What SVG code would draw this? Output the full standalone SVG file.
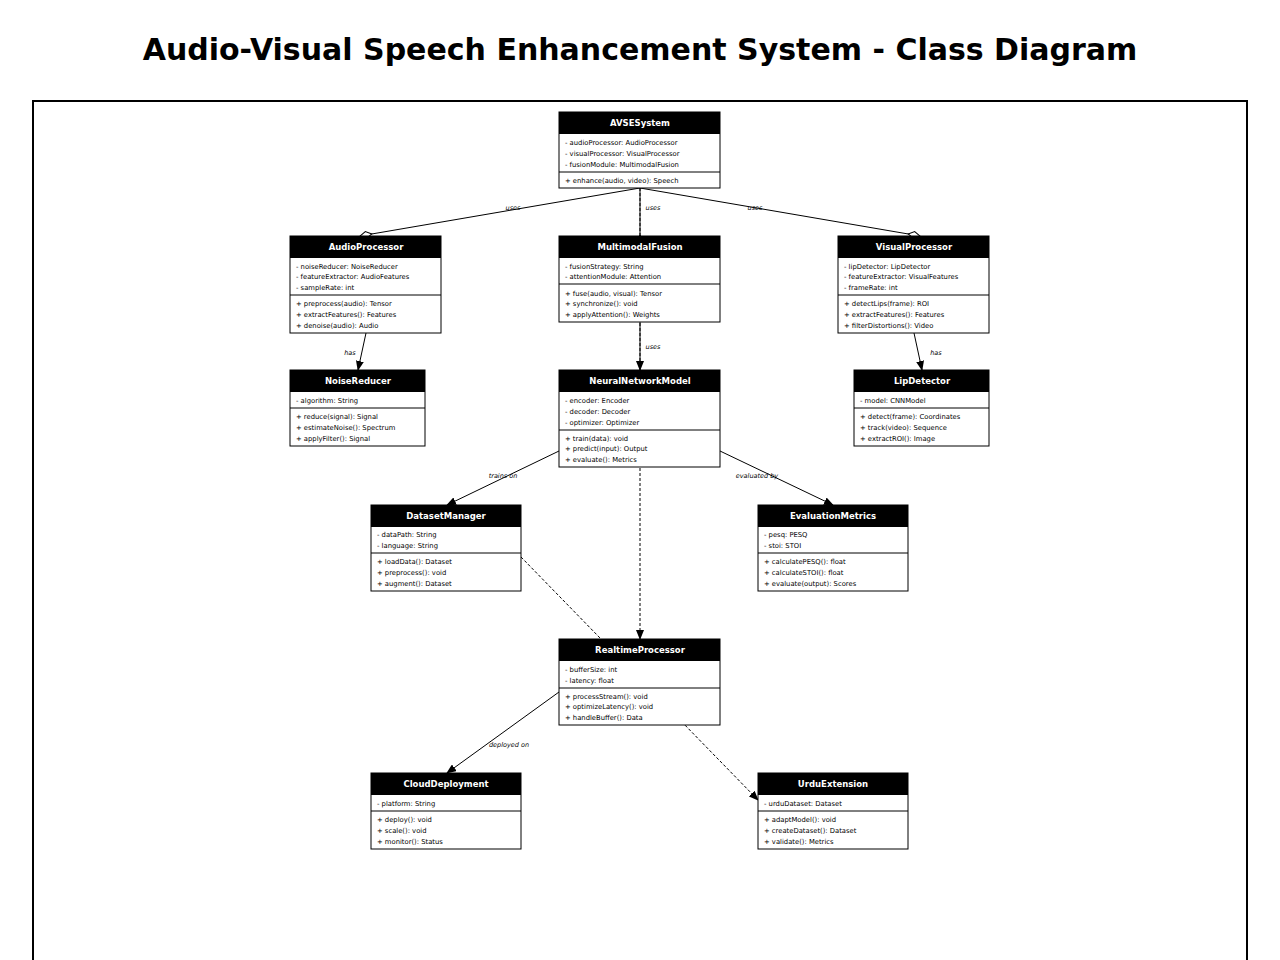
<svg xmlns="http://www.w3.org/2000/svg" width="1280" height="960" viewBox="0 0 1280 960">
<style>
text{font-family:"DejaVu Sans","Liberation Sans",sans-serif}
.t{font-size:30px;font-weight:bold;text-anchor:middle}
.b{fill:#fff;stroke:#000;stroke-width:1}
.h{fill:#000}
.hn{fill:#fff;font-size:8.5px;font-weight:bold;text-anchor:middle}
.m{font-size:6.8px;fill:#000}
.l{font-size:6.5px;font-style:italic;fill:#000;text-anchor:middle}
.c{stroke:#000;stroke-width:1;fill:none}
.d{stroke-dasharray:3,2}
</style>
<defs>
<marker id="a" markerWidth="10" markerHeight="8" refX="9" refY="4" orient="auto" markerUnits="userSpaceOnUse"><path d="M0,0L10,4L0,8z"/></marker>
<marker id="dm" markerWidth="14" markerHeight="8" refX="13" refY="4" orient="auto" markerUnits="userSpaceOnUse"><path d="M1,4L7,0.5L13,4L7,7.5z" fill="#fff" stroke="#000"/></marker>
</defs>
<rect width="1280" height="960" fill="#fff"/>
<text class="t" x="640" y="60">Audio-Visual Speech Enhancement System - Class Diagram</text>
<rect x="33" y="101" width="1214" height="870" fill="none" stroke="#000" stroke-width="2"/>
<g id="connectors">
<line class="c" x1="640" y1="188" x2="360" y2="236" marker-end="url(#dm)"/>
<line class="c" x1="640" y1="188" x2="640" y2="247" marker-end="url(#dm)"/>
<line class="c" x1="640" y1="188" x2="920" y2="236" marker-end="url(#dm)"/>
<line class="c d" x1="640" y1="188" x2="640" y2="639" marker-end="url(#a)"/>
<line class="c" x1="640" y1="322" x2="640" y2="370" marker-end="url(#a)"/>
<line class="c" x1="366" y1="333" x2="358" y2="370" marker-end="url(#a)"/>
<line class="c" x1="914" y1="333" x2="922" y2="370" marker-end="url(#a)"/>
<line class="c" x1="559" y1="451" x2="447" y2="505" marker-end="url(#a)"/>
<line class="c" x1="720" y1="451" x2="833" y2="505" marker-end="url(#a)"/>
<line class="c d" x1="521" y1="557" x2="758" y2="800" stroke-dasharray="2,2" marker-end="url(#a)"/>
<line class="c" x1="559" y1="692" x2="447" y2="773" marker-end="url(#a)"/>
<text class="l" x="513" y="210">uses</text>
<text class="l" x="653" y="210">uses</text>
<text class="l" x="755" y="210">uses</text>
<text class="l" x="653" y="349">uses</text>
<text class="l" x="350" y="355">has</text>
<text class="l" x="936" y="355">has</text>
<text class="l" x="667" y="425">processes</text>
<text class="l" x="503" y="478">trains on</text>
<text class="l" x="757" y="478">evaluated by</text>
<text class="l" x="630" y="693">extends to</text>
<text class="l" x="509" y="747">deployed on</text>
</g>
<g id="AVSESystem">
<rect class="b" x="559" y="112" width="161" height="76"/><rect class="h" x="559" y="112" width="161" height="22"/>
<text class="hn" x="640" y="126">AVSESystem</text>
<text class="m" x="565" y="145">- audioProcessor: AudioProcessor</text>
<text class="m" x="565" y="156">- visualProcessor: VisualProcessor</text>
<text class="m" x="565" y="167">- fusionModule: MultimodalFusion</text>
<line class="c" x1="559" y1="172" x2="720" y2="172"/>
<text class="m" x="565" y="183">+ enhance(audio, video): Speech</text>
</g>
<g id="AudioProcessor">
<rect class="b" x="290" y="236" width="151" height="97"/><rect class="h" x="290" y="236" width="151" height="22"/>
<text class="hn" x="366" y="250">AudioProcessor</text>
<text class="m" x="296" y="269">- noiseReducer: NoiseReducer</text>
<text class="m" x="296" y="279">- featureExtractor: AudioFeatures</text>
<text class="m" x="296" y="290">- sampleRate: int</text>
<line class="c" x1="290" y1="295" x2="441" y2="295"/>
<text class="m" x="296" y="306">+ preprocess(audio): Tensor</text>
<text class="m" x="296" y="317">+ extractFeatures(): Features</text>
<text class="m" x="296" y="328">+ denoise(audio): Audio</text>
</g>
<g id="MultimodalFusion">
<rect class="b" x="559" y="236" width="161" height="86"/><rect class="h" x="559" y="236" width="161" height="22"/>
<text class="hn" x="640" y="250">MultimodalFusion</text>
<text class="m" x="565" y="269">- fusionStrategy: String</text>
<text class="m" x="565" y="279">- attentionModule: Attention</text>
<line class="c" x1="559" y1="284" x2="720" y2="284"/>
<text class="m" x="565" y="296">+ fuse(audio, visual): Tensor</text>
<text class="m" x="565" y="306">+ synchronize(): void</text>
<text class="m" x="565" y="317">+ applyAttention(): Weights</text>
</g>
<g id="VisualProcessor">
<rect class="b" x="838" y="236" width="151" height="97"/><rect class="h" x="838" y="236" width="151" height="22"/>
<text class="hn" x="914" y="250">VisualProcessor</text>
<text class="m" x="844" y="269">- lipDetector: LipDetector</text>
<text class="m" x="844" y="279">- featureExtractor: VisualFeatures</text>
<text class="m" x="844" y="290">- frameRate: int</text>
<line class="c" x1="838" y1="295" x2="989" y2="295"/>
<text class="m" x="844" y="306">+ detectLips(frame): ROI</text>
<text class="m" x="844" y="317">+ extractFeatures(): Features</text>
<text class="m" x="844" y="328">+ filterDistortions(): Video</text>
</g>
<g id="NoiseReducer">
<rect class="b" x="290" y="370" width="135" height="76"/><rect class="h" x="290" y="370" width="135" height="22"/>
<text class="hn" x="358" y="384">NoiseReducer</text>
<text class="m" x="296" y="403">- algorithm: String</text>
<line class="c" x1="290" y1="408" x2="425" y2="408"/>
<text class="m" x="296" y="419">+ reduce(signal): Signal</text>
<text class="m" x="296" y="430">+ estimateNoise(): Spectrum</text>
<text class="m" x="296" y="441">+ applyFilter(): Signal</text>
</g>
<g id="NeuralNetworkModel">
<rect class="b" x="559" y="370" width="161" height="97"/><rect class="h" x="559" y="370" width="161" height="22"/>
<text class="hn" x="640" y="384">NeuralNetworkModel</text>
<text class="m" x="565" y="403">- encoder: Encoder</text>
<text class="m" x="565" y="414">- decoder: Decoder</text>
<text class="m" x="565" y="425">- optimizer: Optimizer</text>
<line class="c" x1="559" y1="430" x2="720" y2="430"/>
<text class="m" x="565" y="441">+ train(data): void</text>
<text class="m" x="565" y="451">+ predict(input): Output</text>
<text class="m" x="565" y="462">+ evaluate(): Metrics</text>
</g>
<g id="LipDetector">
<rect class="b" x="854" y="370" width="135" height="76"/><rect class="h" x="854" y="370" width="135" height="22"/>
<text class="hn" x="922" y="384">LipDetector</text>
<text class="m" x="860" y="403">- model: CNNModel</text>
<line class="c" x1="854" y1="408" x2="989" y2="408"/>
<text class="m" x="860" y="419">+ detect(frame): Coordinates</text>
<text class="m" x="860" y="430">+ track(video): Sequence</text>
<text class="m" x="860" y="441">+ extractROI(): Image</text>
</g>
<g id="DatasetManager">
<rect class="b" x="371" y="505" width="150" height="86"/><rect class="h" x="371" y="505" width="150" height="22"/>
<text class="hn" x="446" y="519">DatasetManager</text>
<text class="m" x="377" y="537">- dataPath: String</text>
<text class="m" x="377" y="548">- language: String</text>
<line class="c" x1="371" y1="553" x2="521" y2="553"/>
<text class="m" x="377" y="564">+ loadData(): Dataset</text>
<text class="m" x="377" y="575">+ preprocess(): void</text>
<text class="m" x="377" y="586">+ augment(): Dataset</text>
</g>
<g id="EvaluationMetrics">
<rect class="b" x="758" y="505" width="150" height="86"/><rect class="h" x="758" y="505" width="150" height="22"/>
<text class="hn" x="833" y="519">EvaluationMetrics</text>
<text class="m" x="764" y="537">- pesq: PESQ</text>
<text class="m" x="764" y="548">- stoi: STOI</text>
<line class="c" x1="758" y1="553" x2="908" y2="553"/>
<text class="m" x="764" y="564">+ calculatePESQ(): float</text>
<text class="m" x="764" y="575">+ calculateSTOI(): float</text>
<text class="m" x="764" y="586">+ evaluate(output): Scores</text>
</g>
<g id="RealtimeProcessor">
<rect class="b" x="559" y="639" width="161" height="86"/><rect class="h" x="559" y="639" width="161" height="22"/>
<text class="hn" x="640" y="653">RealtimeProcessor</text>
<text class="m" x="565" y="672">- bufferSize: int</text>
<text class="m" x="565" y="683">- latency: float</text>
<line class="c" x1="559" y1="688" x2="720" y2="688"/>
<text class="m" x="565" y="699">+ processStream(): void</text>
<text class="m" x="565" y="709">+ optimizeLatency(): void</text>
<text class="m" x="565" y="720">+ handleBuffer(): Data</text>
</g>
<g id="CloudDeployment">
<rect class="b" x="371" y="773" width="150" height="76"/><rect class="h" x="371" y="773" width="150" height="22"/>
<text class="hn" x="446" y="787">CloudDeployment</text>
<text class="m" x="377" y="806">- platform: String</text>
<line class="c" x1="371" y1="811" x2="521" y2="811"/>
<text class="m" x="377" y="822">+ deploy(): void</text>
<text class="m" x="377" y="833">+ scale(): void</text>
<text class="m" x="377" y="844">+ monitor(): Status</text>
</g>
<g id="UrduExtension">
<rect class="b" x="758" y="773" width="150" height="76"/><rect class="h" x="758" y="773" width="150" height="22"/>
<text class="hn" x="833" y="787">UrduExtension</text>
<text class="m" x="764" y="806">- urduDataset: Dataset</text>
<line class="c" x1="758" y1="811" x2="908" y2="811"/>
<text class="m" x="764" y="822">+ adaptModel(): void</text>
<text class="m" x="764" y="833">+ createDataset(): Dataset</text>
<text class="m" x="764" y="844">+ validate(): Metrics</text>
</g>
</svg>
